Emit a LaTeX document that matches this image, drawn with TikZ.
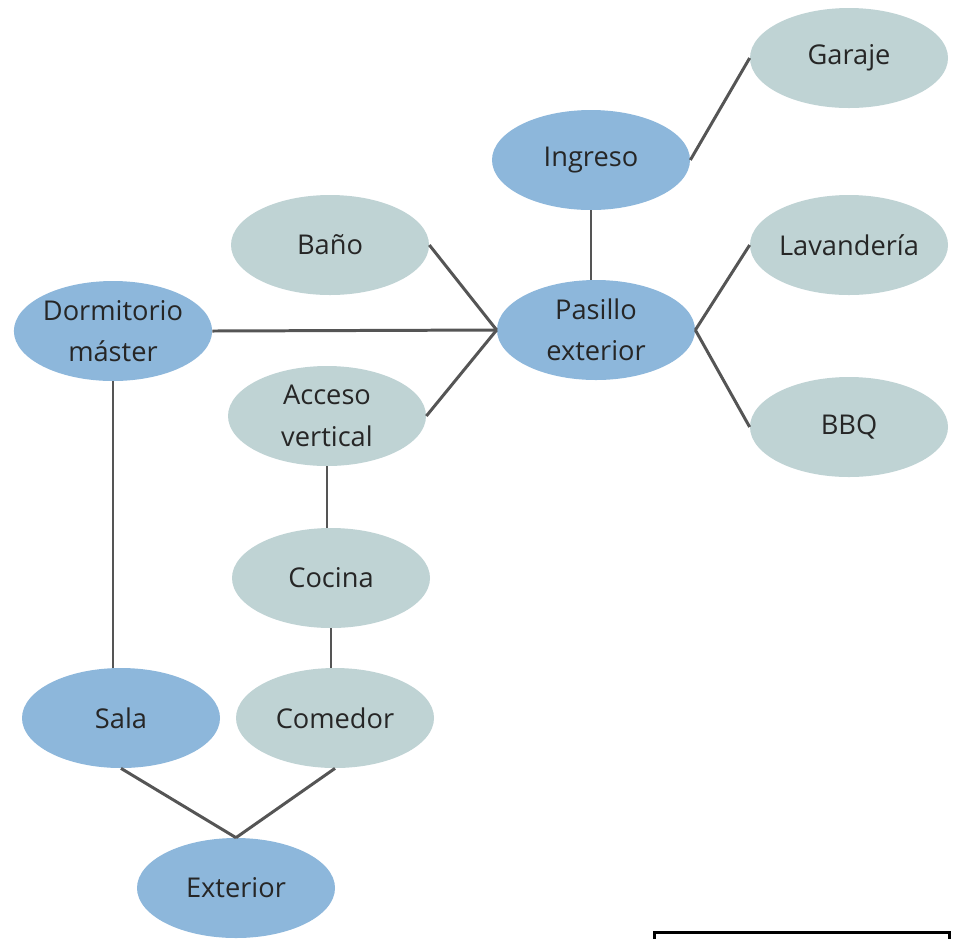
\documentclass[tikz,border=0pt]{standalone}
\usepackage{fontspec}
\setmainfont{Open Sans}
\usetikzlibrary{shapes.geometric}
\definecolor{myblue}{HTML}{8DB7DB}
\definecolor{mygrey}{HTML}{BFD3D4}
\definecolor{linegray}{HTML}{555555}
\tikzset{
  ell/.style={ellipse, minimum width=198*0.02cm, minimum height=100*0.02cm, inner sep=0pt,
              align=center, font=\fontsize{15.5}{23.5}\selectfont, text=black!85},
  blueell/.style={ell, fill=myblue},
  greyell/.style={ell, fill=mygrey},
  conn/.style={draw=linegray, line width=1.7pt},
}
\begin{document}
\begin{tikzpicture}[x=0.02cm, y=-0.02cm]
    \useasboundingbox (0,0) rectangle (957,938);
    \clip (0,0) rectangle (957,938);
    \node[greyell] (garaje) at (849,58) {Garaje};
    \node[blueell] (ingreso) at (591,160) {Ingreso};
    \node[greyell] (bano) at (330,245) {Baño};
    \node[greyell] (lav) at (849,245) {Lavandería};
    \node[blueell] (pasillo) at (596,330) {Pasillo\\exterior};
    \node[blueell] (dorm) at (113,331) {Dormitorio\\máster};
    \node[greyell] (acceso) at (327,416) {Acceso\\vertical};
    \node[greyell] (bbq) at (849,427) {BBQ};
    \node[greyell] (cocina) at (331,578) {Cocina};
    \node[blueell] (sala) at (121,718) {Sala};
    \node[greyell] (comedor) at (335,718) {Comedor};
    \node[blueell] (ext) at (236,888) {Exterior};
    % connectors
    \draw[conn] (ingreso.south) -- (ingreso.south |- pasillo.north);
    \draw[conn] (ingreso.east) -- (garaje.west);
    \draw[conn] (bano.east) -- (pasillo.west); \draw[conn] (dorm.east) -- (pasillo.west); \draw[conn] (acceso.east) -- (pasillo.west);
    \draw[conn] (pasillo.east) -- (lav.west); \draw[conn] (pasillo.east) -- (bbq.west);
    \draw[conn] (dorm.south) -- (dorm.south |- sala.north);
    \draw[conn] (acceso.south) -- (acceso.south |- cocina.north);
    \draw[conn] (cocina.south) -- (cocina.south |- comedor.north);
    \draw[conn] (sala.south) -- (ext.north); \draw[conn] (comedor.south) -- (ext.north);
    % box cut off at the bottom edge
    \node[draw, line width=1.6pt, minimum width=295*0.02cm, minimum height=40*0.02cm, anchor=north west, inner sep=0pt] (leyenda) at (653,931) {};
\end{tikzpicture}
\end{document}
